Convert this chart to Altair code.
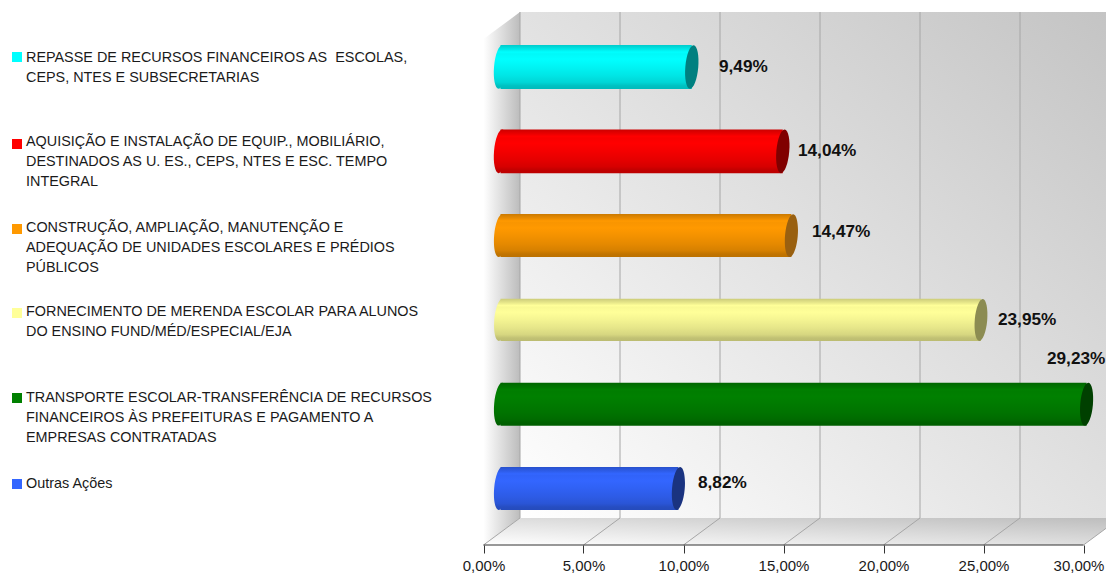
import altair as alt
import pandas as pd

# ---------- chart values ----------
categories = [
    "Outras Ações",
    "TRANSPORTE ESCOLAR",
    "MERENDA",
    "CONSTRUÇÃO",
    "AQUISIÇÃO",
    "REPASSE",
]
values = [8.82, 29.23, 23.95, 14.47, 14.04, 9.49]
value_labels = ["8,82%", "29,23%", "23,95%", "14,47%", "14,04%", "9,49%"]
colors = ["#3366ff", "#008000", "#ffff99", "#ff9900", "#ff0000", "#00ffff"]
cap_colors = ["#1a3380", "#004000", "#8c8c52", "#996010", "#800000", "#008080"]
row_half = [0.255, 0.255, 0.25, 0.255, 0.26, 0.26]
row_center = [0.0, 1.0, 2.0, 3.0, 4.0, 5.0]
label_px = [698, 1047, 998, 812, 798, 719]
label_py = [482, 358, 319, 231, 150, 66]

legend_lines = [
    ("REPASSE DE RECURSOS FINANCEIROS AS\u00a0 ESCOLAS,", 57),
    ("CEPS, NTES E SUBSECRETARIAS", 77),
    ("AQUISIÇÃO E INSTALAÇÃO DE EQUIP., MOBILIÁRIO,", 141),
    ("DESTINADOS AS U. ES., CEPS, NTES E ESC. TEMPO", 161),
    ("INTEGRAL", 181),
    ("CONSTRUÇÃO, AMPLIAÇÃO, MANUTENÇÃO E", 227),
    ("ADEQUAÇÃO DE UNIDADES ESCOLARES E PRÉDIOS", 247),
    ("PÚBLICOS", 267),
    ("FORNECIMENTO DE MERENDA ESCOLAR PARA ALUNOS", 311),
    ("DO ENSINO FUND/MÉD/ESPECIAL/EJA", 331),
    ("TRANSPORTE ESCOLAR-TRANSFERÊNCIA DE RECURSOS", 397),
    ("FINANCEIROS ÀS PREFEITURAS E PAGAMENTO A", 417),
    ("EMPRESAS CONTRATADAS", 437),
    ("Outras Ações", 483),
]
legend_key_py = [484, 398, 313, 229, 144, 57]
tick_values = [0, 5, 10, 15, 20, 25, 30]

# ---------- scale helpers ----------
W, H = 1098, 565
PX_PER_PCT = 20.0
X0_PAGE = 483.5
Y0_PAGE = 488.5
PX_PER_ROW = 84.3
AX_Y, FLOOR_Y, TOP_Y, LEFT_TOP_Y = 545, 518, 12, 39
AX_X, BACK_X = 483.5, 520
END_X = 8 + W


def pct(page_x):
    return (page_x - X0_PAGE) / PX_PER_PCT


def row(page_y):
    return (Y0_PAGE - page_y) / PX_PER_ROW


x_scale = alt.Scale(domain=[pct(8), pct(8 + W)], range=[0, W], nice=False, zero=False)
y_scale = alt.Scale(domain=[row(8 + H), row(8)], range=[H, 0], nice=False, zero=False)

axis = alt.Axis(
    values=tick_values, orient="bottom", offset=AX_Y - (8 + H), domain=False, grid=False,
    tickSize=8, tickColor="#333333", tickWidth=1, labelFont="Liberation Sans", labelFontSize=15,
    labelColor="#1a1a1a", labelPadding=5, labelOverlap=False, labelBound=False, labelFlush=False,
    labelOffset=alt.expr("datum.value == 30 ? -5 : 0"),
    labelExpr="replace(format(datum.value,'.2f'),'.',',')+'%'", title=None, zindex=1,
)


def X(field="x"):
    return alt.X(f"{field}:Q", scale=x_scale, axis=axis)


def Y(field="y"):
    return alt.Y(f"{field}:Q", scale=y_scale, axis=None)


def grad(stops, x1=0, y1=0, x2=0, y2=1):
    return alt.Gradient(
        gradient="linear", x1=x1, y1=y1, x2=x2, y2=y2,
        stops=[alt.GradientStop(offset=o, color=c) for o, c in stops],
    )


def shade(hex_color, f):
    r, g, b = (int(hex_color[i:i + 2], 16) for i in (1, 3, 5))
    return "#%02x%02x%02x" % (int(r * f), int(g * f), int(b * f))


def cyl(c):
    prof = [(0, .80), (.05, .86), (.10, .92), (.16, 1.0), (.20, .98), (.32, 1.0),
            (.50, .96), (.70, .90), (.85, .84), (.93, .76), (1, .74)]
    return grad([(o, shade(c, f)) for o, f in prof])


layers = []

# back wall
layers.append(
    alt.Chart(pd.DataFrame({"x": [pct(BACK_X)], "x2": [pct(END_X)], "y": [row(FLOOR_Y)], "y2": [row(TOP_Y)]}))
    .mark_rect(color=grad([(0, "#ffffff"), (1, "#c4c4c4")], x1=0, y1=1, x2=1, y2=0))
    .encode(x=X(), x2="x2:Q", y=Y(), y2="y2:Q")
)
# left wall
layers.append(
    alt.Chart(pd.DataFrame({"x": [pct(AX_X), pct(BACK_X)], "y": [row(AX_Y), row(FLOOR_Y)],
                            "y2": [row(LEFT_TOP_Y), row(TOP_Y)]}))
    .mark_area(color=grad([(0, "#ffffff"), (1, "#bcbcbc")], x1=0, y1=0, x2=1, y2=0), opacity=1)
    .encode(x=X(), y=Y(), y2="y2:Q")
)
# floor
layers.append(
    alt.Chart(pd.DataFrame({"y": [row(AX_Y), row(FLOOR_Y)],
                            "x": [pct(AX_X), pct(BACK_X)],
                            "x2": [pct(AX_X + 600), pct(BACK_X + 600)]}))
    .mark_area(orient="horizontal", clip=True,
               color=grad([(0, "#ffffff"), (1, "#bdbdbd")], x1=0, y1=1, x2=1, y2=0), opacity=1)
    .encode(y=Y(), x=X(), x2="x2:Q")
)
# grid lines
back = pd.DataFrame({"x": [t + pct(BACK_X) for t in tick_values], "y": [row(FLOOR_Y)] * 7, "y2": [row(TOP_Y)] * 7})
layers.append(
    alt.Chart(back).mark_rule(color="#a6a6a6", strokeWidth=1, clip=True)
    .encode(x=X(), y=Y(), y2="y2:Q")
)
diag = pd.DataFrame({
    "k": [t for t in tick_values for _ in (0, 1)],
    "x": [t + pct(p) for t in tick_values for p in (AX_X, BACK_X)],
    "y": [row(p) for t in tick_values for p in (AX_Y, FLOOR_Y)],
})
layers.append(
    alt.Chart(diag).mark_line(color="#a6a6a6", strokeWidth=1, clip=True)
    .encode(x=X(), y=Y(), detail="k:N")
)

# cylinders
body_start = pct(500.5)
cap_off = pct(502)
ell = ("M0,-1C0.163,-1 0.295,-0.552 0.295,0C0.295,0.552 0.163,1 0,1"
       "C-0.163,1 -0.295,0.552 -0.295,0C-0.295,-0.552 -0.163,-1 0,-1Z")
for i, cat in enumerate(categories):
    v, c, cc, hh, rc = values[i], colors[i], cap_colors[i], row_half[i], row_center[i]
    end = v + cap_off
    size = (2 * hh * PX_PER_ROW) ** 2
    d = pd.DataFrame({"cat": [cat], "x": [body_start], "x2": [end], "y": [rc - hh], "y2": [rc + hh], "yc": [rc], "end": [end]})
    base = alt.Chart(d)
    layers.append(base.mark_point(shape=ell, size=size, filled=True, opacity=1, color=cyl(c), angle=5)
                  .encode(x=X(), y=Y("yc")))
    layers.append(base.mark_rect(color=cyl(c)).encode(x=X(), x2="x2:Q", y=Y(), y2="y2:Q"))
    layers.append(base.mark_point(shape=ell, size=size, filled=True, opacity=1, color=cc, angle=5)
                  .encode(x=X("end"), y=Y("yc")))

# value labels
lab = pd.DataFrame({"x": [pct(p) for p in label_px], "y": [row(p) for p in label_py], "t": value_labels})
layers.append(
    alt.Chart(lab).mark_text(align="left", baseline="middle", font="Liberation Sans", fontWeight="bold",
                             fontSize=17.2, color="#111111", dy=1)
    .encode(x=X(), y=Y(), text="t:N")
)

# legend keys and text
keys = pd.DataFrame({"x": [pct(17)] * 6, "y": [row(p) for p in legend_key_py], "c": colors})
layers.append(
    alt.Chart(keys).mark_square(size=100, opacity=1)
    .encode(x=X(), y=Y(), color=alt.Color("c:N", scale=None))
)
leg = pd.DataFrame({"x": [pct(26)] * len(legend_lines), "y": [row(p) for _, p in legend_lines],
                    "t": [t for t, _ in legend_lines]})
layers.append(
    alt.Chart(leg).mark_text(align="left", baseline="middle", font="Liberation Sans", fontSize=14.4, color="#1a1a1a", dy=1)
    .encode(x=X(), y=Y(), text="t:N")
)

# value axis line
axis_d = pd.DataFrame({"x": [0], "x2": [30], "y": [row(AX_Y)]})
layers.append(
    alt.Chart(axis_d).mark_rule(color="#333333", strokeWidth=1)
    .encode(x=X(), x2="x2:Q", y=Y())
)

chart = (
    alt.layer(*layers)
    .properties(width=W, height=H, padding=0, autosize=alt.AutoSizeParams(type="none"), background="#ffffff")
    .configure_view(stroke=None)
)
chart.save("out.html", embed_options={"renderer": "svg", "actions": False})
